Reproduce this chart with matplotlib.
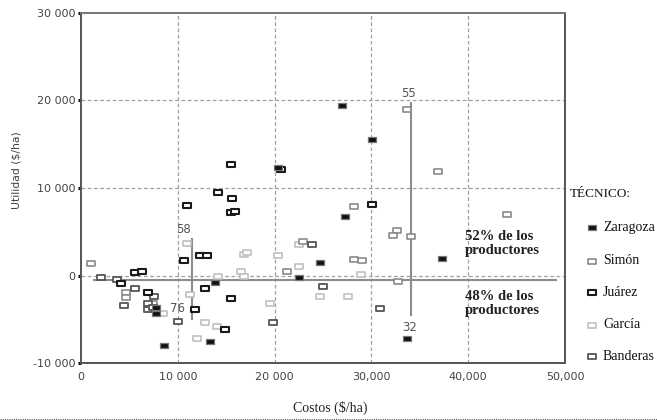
import matplotlib
matplotlib.use("Agg")
import matplotlib.pyplot as plt
from matplotlib.lines import Line2D
from matplotlib.path import Path
import numpy as np

# ---------------- data (Costos, Utilidad) in $/ha ----------------
zaragoza_x = [7750, 7750, 8610, 13840, 13330, 22550, 24690, 20300, 26930, 30030, 27280, 37330, 33650]
zaragoza_y = [-3620, -4300, -7880, -690, -7460, -130, 1520, 12420, 19460, 15550, 6830, 2040, -7150]

simon_x = [1033, 4620, 4620, 7470, 21310, 22900, 33710, 36850, 28230, 32610, 32270, 34090, 28230, 29060, 32780, 43980]
simon_y = [1400, -1900, -2480, -3090, 525, 3980, 18970, 11930, 7900, 5200, 4630, 4550, 1890, 1780, -580, 7030]

juarez_x = [4100, 5580, 6270, 6920, 10610, 12290, 12980, 12810, 14880, 15460, 15460, 20660, 14190, 15630, 15460, 15870, 10980, 30030, 11810]
juarez_y = [-880, 380, 560, -1900, 1780, 2350, 2350, -1410, -6130, -2590, 12700, 12160, 9540, 8850, 7290, 7400, 8090, 8170, -3780]

garcia_x = [8470, 10980, 11260, 14190, 12810, 11950, 14020, 16500, 16840, 16840, 17180, 19520, 20320, 22550, 22550, 24690, 28890, 27610]
garcia_y = [-4300, 3690, -2130, -50, -5260, -7090, -5780, 560, -50, 2460, 2730, -3090, 2350, 1130, 3600, -2290, 150, -2290]

banderas_x = [2035, 3750, 4440, 5580, 7540, 6920, 6920, 7470, 9990, 19870, 23830, 25030, 30890]
banderas_y = [-190, -390, -3350, -1410, -2290, -3090, -3850, -3620, -5150, -5260, 3600, -1150, -3660]

series_names = ["Zaragoza", "Simón", "Juárez", "García", "Banderas"]

# reference lines
h_line_y = -500
h_line_x = [1300, 49100]
v1_x = 11500
v1_y = [4140, -4990]
v2_x = 34090
v2_y = [19730, -4520]

x_ticks = [0, 10000, 20000, 30000, 40000, 50000]
x_tick_labels = ["0", "10 000", "20 000", "30,000", "40,000", "50,000"]
y_ticks = [-10000, 0, 10000, 20000, 30000]
y_tick_labels = ["-10 000", "0", "10 000", "20 000", "30 000"]

# ---------------- styling ----------------
rect = Path([(-1, -0.6), (1, -0.6), (1, 0.6), (-1, 0.6), (-1, -0.6)],
            [Path.MOVETO, Path.LINETO, Path.LINETO, Path.LINETO, Path.CLOSEPOLY])

styles = {
    "Zaragoza": dict(mfc="#111111", mec="#777777", mew=0.9),
    "Simón": dict(mfc="white", mec="#8a8a8a", mew=1.2),
    "Juárez": dict(mfc="white", mec="#1a1a1a", mew=1.5),
    "García": dict(mfc="white", mec="#c0c0c0", mew=1.2),
    "Banderas": dict(mfc="white", mec="#555555", mew=1.3),
}
data = {
    "Zaragoza": (zaragoza_x, zaragoza_y),
    "Simón": (simon_x, simon_y),
    "Juárez": (juarez_x, juarez_y),
    "García": (garcia_x, garcia_y),
    "Banderas": (banderas_x, banderas_y),
}

fig = plt.figure(figsize=(6.57, 4.2), dpi=100)
ax = fig.add_axes([81 / 657, 1 - 363.3 / 420, (565 - 81) / 657, (363.3 - 12.7) / 420])
ax.set_xlim(0, 50000)
ax.set_ylim(-10000, 30000)

# grid
for gx in [10000, 20000, 30000, 40000]:
    ax.axvline(gx, color="#a0a0a0", lw=0.9, ls=(0, (3, 2)), zorder=0)
for gy in [0, 10000, 20000]:
    ax.axhline(gy, color="#a0a0a0", lw=0.9, ls=(0, (3, 2)), zorder=0)

# reference lines
lc = "#8c8c8c"
ax.plot(h_line_x, [h_line_y, h_line_y], color=lc, lw=1.5, zorder=1)
ax.plot([v1_x, v1_x], v1_y, color=lc, lw=1.5, zorder=1)
ax.plot([v2_x, v2_x], v2_y, color=lc, lw=1.5, zorder=1)

# points (García drawn first, Zaragoza last)
order = ["García", "Simón", "Banderas", "Juárez", "Zaragoza"]
for name in order:
    xs, ys = data[name]
    ax.plot(xs, ys, ls="none", marker=rect, ms=6.0, zorder=3, **styles[name])

# annotation numbers
ann_kw = dict(fontsize=8.5, color="#555555", ha="center", va="center", family="DejaVu Sans")
ax.text(10640, 5320, "58", **ann_kw)
ax.text(10020, -3700, "76", **ann_kw)
ax.text(33880, 20820, "55", **ann_kw)
ax.text(33990, -5860, "32", **ann_kw)

txt_kw = dict(fontsize=10.5, fontweight="bold", color="#222222", ha="left", va="center",
              family="Liberation Serif", linespacing=1.1)
ax.text(39700, 3700, "52% de los\nproductores", **txt_kw)
ax.text(39700, -3150, "48% de los\nproductores", **txt_kw)

# axes styling
for side in ["left", "right", "top", "bottom"]:
    ax.spines[side].set_color("#555555")
    ax.spines[side].set_linewidth(1.4)
ax.spines["top"].set_color("#777777")

ax.set_xticks(x_ticks)
ax.set_xticklabels(x_tick_labels)
ax.set_yticks(y_ticks)
ax.set_yticklabels(y_tick_labels)
ax.tick_params(axis="x", length=0, pad=6, labelsize=8, labelcolor="#444444")
ax.tick_params(axis="y", length=2, width=2.2, color="#111111", pad=2, labelsize=8, labelcolor="#444444")
for lab in ax.get_xticklabels() + ax.get_yticklabels():
    lab.set_family("DejaVu Sans")

# axis labels
fig.text(330 / 657, 1 - 407.5 / 420, "Costos ($/ha)", ha="center", va="center",
         fontsize=10, family="Liberation Serif", color="#222222")
fig.text(16.5 / 657, 1 - 170 / 420, "Utilidad ($/ha)", ha="center", va="center",
         rotation=90, fontsize=7.8, family="DejaVu Sans", color="#444444")

# legend (manual)
fig.text(600 / 657, 1 - 194 / 420, "TÉCNICO:", ha="center", va="center",
         fontsize=9.5, family="Liberation Serif", color="#111111")
leg_y = [227, 261, 292, 325, 356]
for name, py in zip(series_names, leg_y):
    fig.add_artist(Line2D([592 / 657], [1 - py / 420], transform=fig.transFigure,
                          ls="none", marker=rect, ms=6.0, **styles[name]))
    fig.text(603 / 657, 1 - py / 420, name, ha="left", va="center",
             fontsize=10, family="Liberation Serif", color="#111111")

# dotted rule at bottom of figure
fig.add_artist(Line2D([0, 1], [1.5 / 420, 1.5 / 420], transform=fig.transFigure,
                      color="#666666", lw=0.8, ls=(0, (1, 1))))

fig.savefig("out.png", dpi=100)
